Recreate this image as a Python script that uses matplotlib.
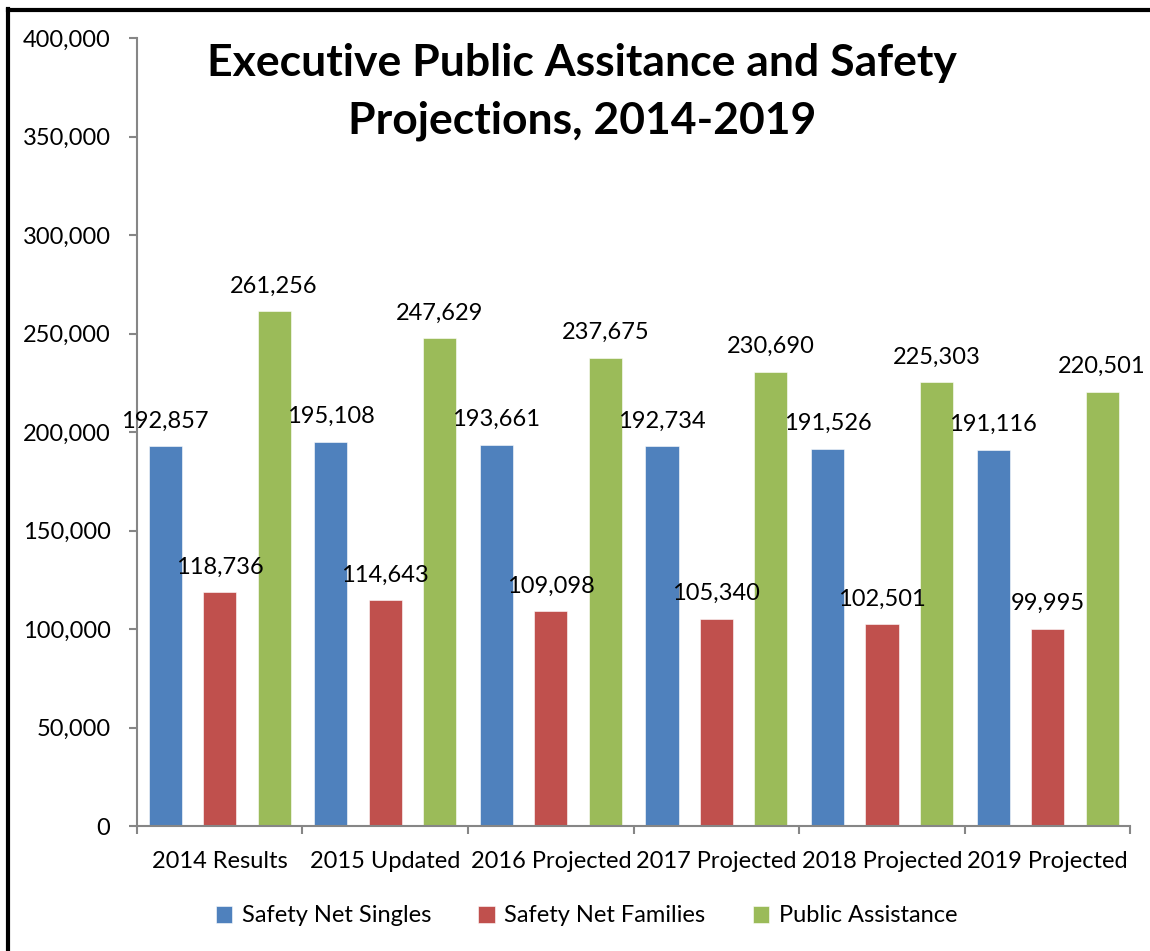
import numpy as np
import matplotlib
matplotlib.use("Agg")
import matplotlib.pyplot as plt
from matplotlib.lines import Line2D
from matplotlib.ticker import FuncFormatter, FixedLocator

plt.rcParams['font.family'] = ['Lato', 'DejaVu Sans']

# Dane
categories = ["2014 Results", "2015 Updated", "2016 Projected",
              "2017 Projected", "2018 Projected", "2019 Projected"]
singles = [192857, 195108, 193661, 192734, 191526, 191116]
families = [118736, 114643, 109098, 105340, 102501, 99995]
public_assistance = [261256, 247629, 237675, 230690, 225303, 220501]

series_names = ["Safety Net Singles", "Safety Net Families", "Public Assistance"]
colors = ["#4F81BD", "#C0504D", "#9BBB59"]
axis_color = "#868686"

fig = plt.figure(figsize=(11.5, 9.51), dpi=100)
ax = fig.add_axes([0.119, 0.1314, 0.864, 0.8286])

x = np.arange(len(categories))
width = 0.2
offsets = [-0.329, 0.0, 0.329]

for vals, off, col, name in zip([singles, families, public_assistance], offsets, colors, series_names):
    bars = ax.bar(x + off, vals, width, color=col, label=name, edgecolor="white", linewidth=0.4)
    for b, v in zip(bars, vals):
        ax.annotate(f"{v:,}", (b.get_x() + b.get_width() / 2, v),
                    xytext=(0, 13.5), textcoords="offset points",
                    ha="center", va="baseline", fontsize=17)

ax.set_xlim(-0.5, len(categories) - 0.5)
ax.set_ylim(0, 400000)
ax.set_yticks(range(0, 400001, 50000))
ax.yaxis.set_major_formatter(FuncFormatter(lambda v, p: f"{int(v):,}"))

ax.set_xticks(x)
ax.set_xticklabels(categories)
ax.xaxis.set_minor_locator(FixedLocator(np.arange(-0.5, len(categories), 1.0)))

ax.tick_params(axis="y", direction="out", length=6, width=1.5, color=axis_color,
               labelsize=17, pad=13)
ax.tick_params(axis="x", which="major", length=0, labelsize=17, pad=18)
ax.tick_params(axis="x", which="minor", direction="out", length=6, width=1.5, color=axis_color)

for s in ["top", "right"]:
    ax.spines[s].set_visible(False)
for s in ["left", "bottom"]:
    ax.spines[s].set_color(axis_color)
    ax.spines[s].set_linewidth(1.5)

# Tytuł
fig.text(0.506, 0.903, "Executive Public Assitance and Safety\nProjections, 2014-2019",
         ha="center", va="center", fontsize=32, fontweight="bold", linespacing=1.52)

# Legenda pod wykresem
fig.legend(loc="center", bbox_to_anchor=(0.51, 1 - 916 / 951), ncol=3, frameon=False,
           fontsize=17, handlelength=0.7, handleheight=0.7, handletextpad=0.4,
           columnspacing=2.0)

# Ramka
fig.add_artist(Line2D([8 / 1150, 8 / 1150], [0, 1 - 9 / 951], color="black", linewidth=3,
                      transform=fig.transFigure))
fig.add_artist(Line2D([8 / 1150, 1], [1 - 9.5 / 951, 1 - 9.5 / 951], color="black", linewidth=3,
                      transform=fig.transFigure, solid_capstyle="projecting"))

fig.savefig("out.png", dpi=100)
